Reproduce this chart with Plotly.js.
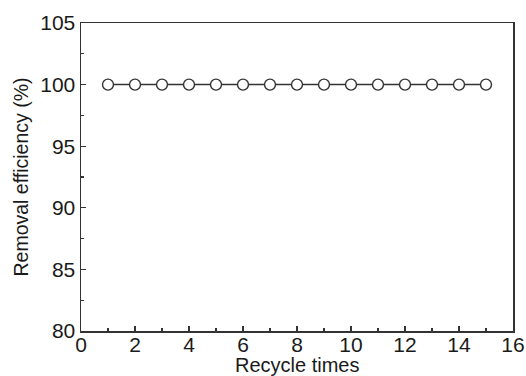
<!DOCTYPE html>
<html>
<head>
<meta charset="utf-8">
<script src="https://cdn.plot.ly/plotly-3.0.1.min.js"></script>
<style>html,body{margin:0;padding:0;background:#fff;}#chart{width:526px;height:376px;}</style>
</head>
<body>
<div id="chart"></div>
<script>
const cycles = [1,2,3,4,5,6,7,8,9,10,11,12,13,14,15];
const efficiency = [100,100,100,100,100,100,100,100,100,100,100,100,100,100,100];
const xTitle = "Recycle times";
const yTitle = "Removal efficiency (%)";

const axisCommon = {
  showline: true, mirror: true, linecolor: '#333', linewidth: 1.5,
  ticks: 'inside', ticklen: 5, tickwidth: 1.3, tickcolor: '#333',
  showgrid: false, zeroline: false,
  tickfont: {family: 'Liberation Sans, Arial, sans-serif', size: 21, color: '#1a1a1a'},
  minor: {ticks: 'inside', ticklen: 3, tickwidth: 1.2, tickcolor: '#333', showgrid: false}
};

Plotly.newPlot('chart', [{
  x: cycles, y: efficiency, type: 'scatter', mode: 'lines+markers',
  line: {color: '#333', width: 1.5},
  marker: {symbol: 'circle', size: 11, color: '#fff', line: {color: '#333', width: 1.4}}
}], {
  width: 526, height: 376,
  margin: {l: 81, r: 13, t: 23, b: 45},
  paper_bgcolor: '#fff', plot_bgcolor: '#fff',
  showlegend: false,
  xaxis: Object.assign({}, axisCommon, {
    range: [0, 16], dtick: 2, tick0: 0,
    ticklabelstandoff: -6,
    minor: Object.assign({}, axisCommon.minor, {dtick: 1})
  }),
  yaxis: Object.assign({}, axisCommon, {
    range: [80, 105], dtick: 5, tick0: 80,
    minor: Object.assign({}, axisCommon.minor, {dtick: 2.5}),
    title: {text: yTitle, standoff: 6, font: {family: 'Liberation Sans, Arial, sans-serif', size: 19.5, color: '#1a1a1a'}}
  }),
  annotations: [{
    text: xTitle, xref: 'paper', yref: 'paper', x: 0.5, y: 0,
    xanchor: 'center', yanchor: 'middle', yshift: -34, showarrow: false,
    font: {family: 'Liberation Sans, Arial, sans-serif', size: 20, color: '#1a1a1a'}
  }]
}, {displayModeBar: false, staticPlot: true});
</script>
</body>
</html>
